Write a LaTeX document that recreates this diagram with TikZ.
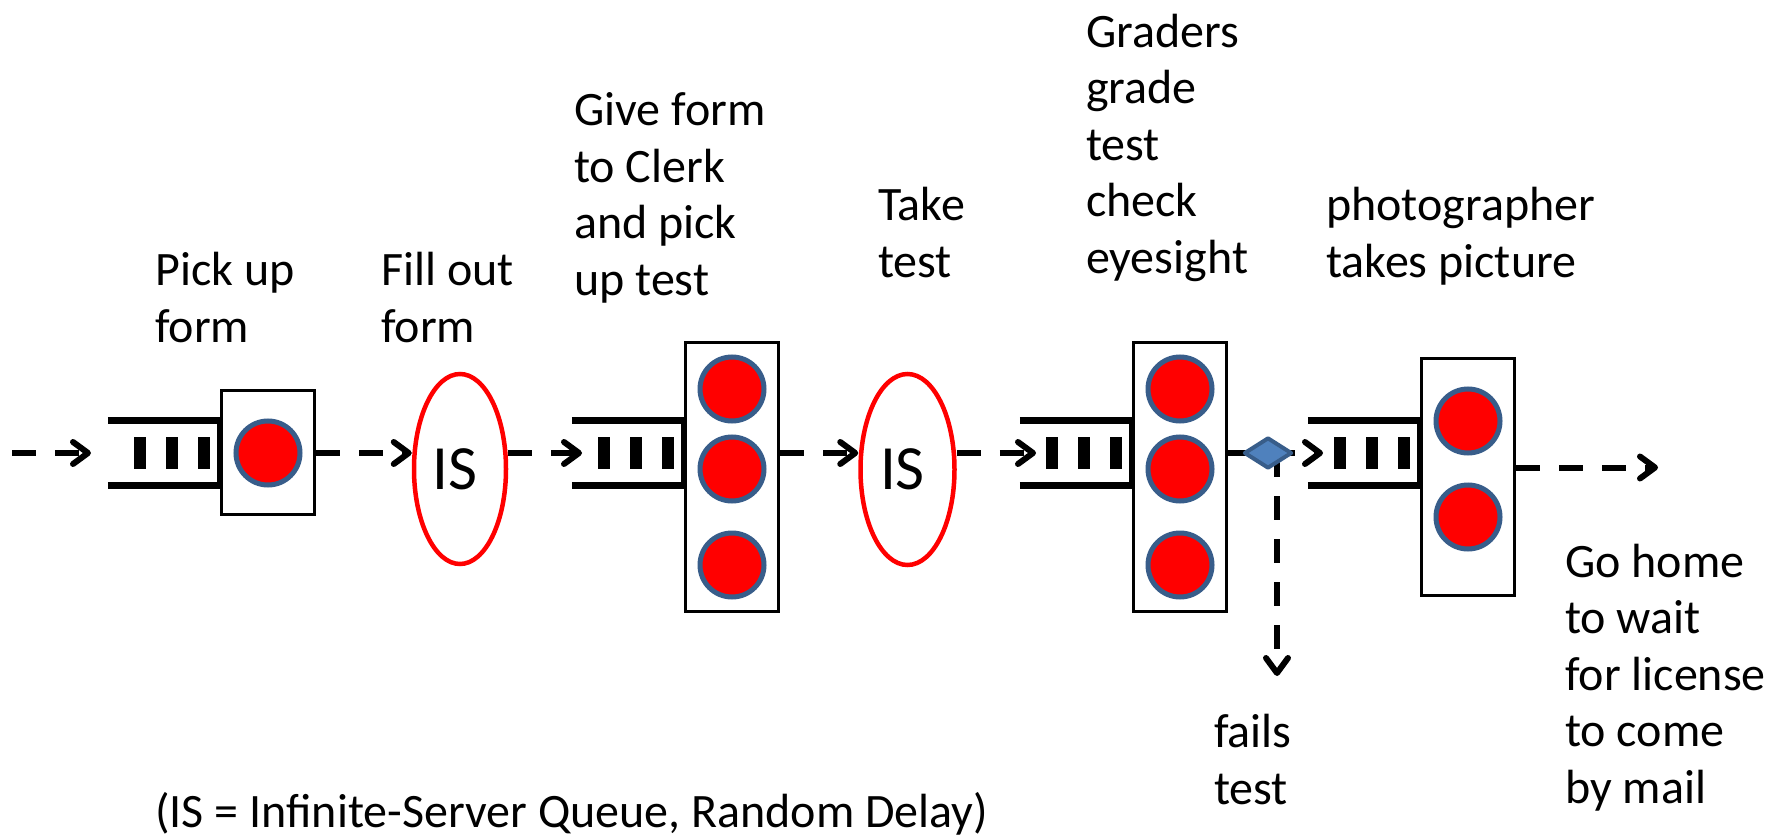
\documentclass[tikz,border=0pt]{standalone}
\usepackage{fontspec}
\setmainfont{Carlito}
\usetikzlibrary{arrows.meta,shapes.geometric,backgrounds}
\definecolor{srvred}{RGB}{255,0,0}
\definecolor{rimblue}{RGB}{56,93,138}
\definecolor{gateblue}{RGB}{79,129,189}
\newcommand\labfont{\fontsize{48pt}{56.5pt}\selectfont}
\newcommand\isfont{\fontsize{63pt}{70pt}\selectfont}

\tikzset{
  flow/.style={line width=6pt, dash pattern=on 24pt off 19pt,
    -{Straight Barb[length=15pt,width=22pt,round]}},
  srvbox/.style={draw, line width=3.5pt, fill=white, rectangle, inner sep=0pt},
  server/.style={circle, draw=rimblue, fill=srvred, line width=5pt,
    minimum size=64pt, inner sep=0pt},
  delay/.style={ellipse, draw=srvred, line width=4.5pt, fill=white,
    inner sep=0pt, font=\isfont},
  gate/.style={diamond, draw=rimblue, fill=gateblue, line width=4pt,
    line join=round, minimum width=48pt, minimum height=31pt, inner sep=0pt},
  % multi-line labels are placed by the baseline of their last line
  lab/.style={font=\labfont, align=left, anchor=base west, inner sep=0pt},
  waitline/.pic={
    \draw[line width=7pt] (-112,-32.5) -- (0,-32.5) (-112,32) -- (0,32);
    \draw[line width=6pt] (0,-36) -- (0,35.5);
    \foreach \bx in {-80,-48,-16} \fill (\bx-6,-16) rectangle (\bx+6,16);
  }
}

\begin{document}
\begin{tikzpicture}[x=1pt,y=-1pt]
\useasboundingbox (0,0) rectangle (1775,837);

% service stations
\node[srvbox, minimum width=93pt, minimum height=124pt] (b1) at (268,452.5) {};
\node[srvbox, minimum width=93pt, minimum height=269pt] (b2) at (732,477) {};
\node[srvbox, minimum width=93pt, minimum height=269pt] (b3) at (1180,477) {};
\node[srvbox, minimum width=93pt, minimum height=237pt] (b4) at (1468,477) {};

% waiting lines in front of the stations
\pic at (b1.west |- 0,453) {waitline};
\pic at (b2.west |- 0,453) {waitline};
\pic at (b3.west |- 0,453) {waitline};
\pic at (b4.west |- 0,453) {waitline};

% servers
\node[server] (s1) at (268,453) {};
\node[server] (s21) at (732,389) {};
\node[server] (s22) at (732,469) {};
\node[server] (s23) at (732,565) {};
\node[server] (s31) at (1180,389) {};
\node[server] (s32) at (1180,469) {};
\node[server] (s33) at (1180,565) {};
\node[server] (s41) at (1468,421) {};
\node[server] (s42) at (1468,517) {};

% infinite-server delays
\node[delay, minimum width=92pt, minimum height=190pt] (e1) at (460,469) {\hspace{-10pt}IS};
\node[delay, minimum width=94pt, minimum height=191pt] (e2) at (907.5,469.5) {\hspace{-10pt}IS};

% branching point after grading
\node[gate] (d) at (1268,453) {};

% flow end points
\coordinate (src) at (12,453);
\coordinate (in1) at (91,453);
\coordinate (in2) at (582,453);
\coordinate (in3) at (1036,453);
\coordinate (in4) at (1323,453);
\coordinate (fail) at (1277,676);
\coordinate (home) at (1658,467.5);

\begin{scope}[on background layer]
\fill[white] (0,0) rectangle (1775,837);
\draw[flow] (src) -- (in1);
\draw[flow] (b1.east |- src) -- (e1.west |- src);
\draw[flow] (e1.east |- src) -- (in2);
\draw[flow] (b2.east |- src) -- (e2.west |- src);
\draw[flow] (e2.east |- src) -- (in3);
\draw[flow] (b3.east |- src) -- (in4);
\draw[flow] (fail |- d.center) -- (fail);
\draw[flow] (b4.east |- home) -- (home);
\end{scope}

% labels
\node[lab] (t1) at (155,342) {Pick up\\form};
\node[lab] (t2) at (381,342) {Fill out\\form};
\node[lab] (t3) at (574,295) {Give form\\to Clerk\\and pick\\up test};
\node[lab] (t4) at (878,277) {Take\\test};
\node[lab] (t5) at (1086,273) {Graders\\grade\\test\\check\\eyesight};
\node[lab] (t6) at (1326,277) {photographer\\takes picture};
\node[lab] (t7) at (1565,803) {Go home\\to wait\\for license\\to come\\by mail};
\node[lab] (t8) at (1214,804) {fails\\test};
\node[lab] (t9) at (155,827) {(IS = Infinite-Server Queue, Random Delay)};
\end{tikzpicture}
\end{document}
